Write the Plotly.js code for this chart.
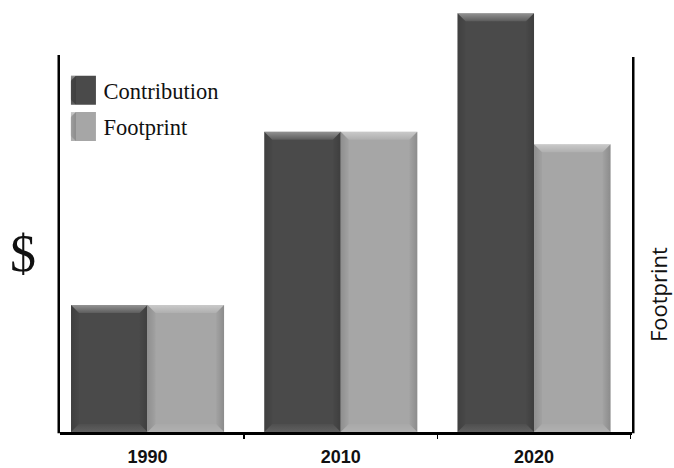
<!DOCTYPE html>
<html>
<head>
<meta charset="utf-8">
<script src="https://cdn.plot.ly/plotly-3.0.1.min.js"></script>
<style>
  html, body { margin: 0; padding: 0; background: #fff; }
  #chart { width: 674px; height: 468px; }
  #bevel-defs { position: absolute; width: 0; height: 0; overflow: hidden; }
</style>
</head>
<body>
<svg id="bevel-defs" width="0" height="0" aria-hidden="true">
  <defs>
    <linearGradient id="bevelTop" x1="0" y1="0" x2="0" y2="1">
      <stop offset="0" stop-color="#fff" stop-opacity="0.40"/>
      <stop offset="1" stop-color="#fff" stop-opacity="0.10"/>
    </linearGradient>
    <linearGradient id="bevelLeft" x1="0" y1="0" x2="1" y2="0">
      <stop offset="0" stop-color="#000" stop-opacity="0.14"/>
      <stop offset="1" stop-color="#000" stop-opacity="0.03"/>
    </linearGradient>
    <linearGradient id="bevelRight" x1="0" y1="0" x2="1" y2="0">
      <stop offset="0" stop-color="#000" stop-opacity="0.02"/>
      <stop offset="1" stop-color="#000" stop-opacity="0.16"/>
    </linearGradient>
    <linearGradient id="bevelBottom" x1="0" y1="0" x2="0" y2="1">
      <stop offset="0" stop-color="#fff" stop-opacity="0.03"/>
      <stop offset="1" stop-color="#fff" stop-opacity="0.12"/>
    </linearGradient>
  </defs>
</svg>
<div id="chart"></div>
<script>
// Categories and series values
const years = ['1990', '2010', '2020'];
const contribution = [3.0, 7.1, 9.9];
const footprint = [3.0, 7.1, 6.8];
const seriesNames = ['Contribution', 'Footprint'];
const seriesColors = ['#4a4a4a', '#a6a6a6'];
const leftTitle = '$';
const rightTitle = 'Footprint';

const traces = [contribution, footprint].map((vals, i) => ({
  type: 'bar',
  x: years,
  y: vals,
  name: seriesNames[i],
  legendgroup: 'series' + i,
  marker: { color: seriesColors[i], line: { width: 0 } },
  hoverinfo: 'skip'
}));

// Side rules stop short of the plot top, so the tallest bar rises past them
const sideRule = (x, top) => ({
  type: 'line', xref: 'paper', yref: 'paper', layer: 'above',
  x0: x, x1: x, y0: -0.003, y1: top,
  line: { color: '#000', width: 2.5 }
});

const layout = {
  width: 674,
  height: 468,
  margin: { l: 60, r: 42, t: 0, b: 36, pad: 0 },
  paper_bgcolor: '#ffffff',
  plot_bgcolor: 'rgba(0,0,0,0)',
  barmode: 'group',
  bargap: 0.208,
  bargroupgap: 0,
  showlegend: true,
  legend: {
    x: 0.006, y: 0.840, xanchor: 'left', yanchor: 'top',
    bgcolor: 'rgba(0,0,0,0)', borderwidth: 0,
    traceorder: 'grouped', tracegroupgap: 4,
    font: { family: 'Liberation Serif, serif', size: 22.5, color: '#111' }
  },
  xaxis: {
    type: 'category',
    range: [-0.453, 2.507],
    showline: true, linewidth: 2.5, linecolor: '#000',
    ticks: 'outside', tickson: 'boundaries', ticklen: 4, tickwidth: 1.5, tickcolor: '#000',
    showgrid: false, zeroline: false,
    tickfont: { family: 'Liberation Sans, Arial, sans-serif', size: 18, color: '#111', weight: 'bold' },
    ticklabelstandoff: 7,
    fixedrange: true
  },
  yaxis: {
    range: [0, 10.213],
    showline: false, ticks: '', showticklabels: false, showgrid: false, zeroline: false,
    fixedrange: true
  },
  shapes: [sideRule(-0.0022, 0.8727), sideRule(1.0022, 0.868)],
  annotations: [
    {
      text: leftTitle, xref: 'paper', yref: 'paper', x: -0.0647, y: 0.414,
      xanchor: 'center', yanchor: 'middle', showarrow: false,
      font: { family: 'Liberation Serif, serif', size: 52, color: '#111' }
    },
    {
      text: rightTitle, xref: 'paper', yref: 'paper', x: 1.0455, y: 0.317,
      xanchor: 'center', yanchor: 'middle', showarrow: false, textangle: -90,
      font: { family: 'Open Sans, sans-serif', size: 22, color: '#111' }
    }
  ]
};

const SVG_NS = 'http://www.w3.org/2000/svg';

// Overlay four mitred bands on a rectangle to give it a bevelled look
function addBevel(pathEl, band) {
  const bb = pathEl.getBBox();
  if (!bb.width || !bb.height) return;
  const x0 = bb.x, x1 = bb.x + bb.width, y0 = bb.y, y1 = bb.y + bb.height;
  const b = Math.min(band, bb.width / 2, bb.height / 2);
  const faces = [
    { pts: [[x0, y0], [x1, y0], [x1 - b, y0 + b], [x0 + b, y0 + b]], fill: 'url(#bevelTop)' },
    { pts: [[x0, y0], [x0 + b, y0 + b], [x0 + b, y1 - b], [x0, y1]], fill: 'url(#bevelLeft)' },
    { pts: [[x1, y0], [x1, y1], [x1 - b, y1 - b], [x1 - b, y0 + b]], fill: 'url(#bevelRight)' },
    { pts: [[x0, y1], [x0 + b, y1 - b], [x1 - b, y1 - b], [x1, y1]], fill: 'url(#bevelBottom)' }
  ];
  const parent = pathEl.parentNode;
  faces.forEach(f => {
    const poly = document.createElementNS(SVG_NS, 'polygon');
    poly.setAttribute('points', f.pts.map(p => p.join(',')).join(' '));
    poly.setAttribute('fill', f.fill);
    poly.style.pointerEvents = 'none';
    parent.appendChild(poly);
  });
}

Plotly.newPlot('chart', traces, layout, { displayModeBar: false, staticPlot: true }).then(gd => {
  gd.querySelectorAll('.barlayer .point path').forEach(p => addBevel(p, 8));
  // Larger bevelled swatches in the legend
  gd.querySelectorAll('.legend .legendpoints path').forEach(p => {
    const d = p.getAttribute('d') || '';
    if (d.indexOf('M6,6H-6V-6H6Z') === 0) {
      p.setAttribute('d', 'M12.5,14.5H-12.5V-14.5H12.5Z');
      addBevel(p, 6);
    }
  });
});
</script>
</body>
</html>
